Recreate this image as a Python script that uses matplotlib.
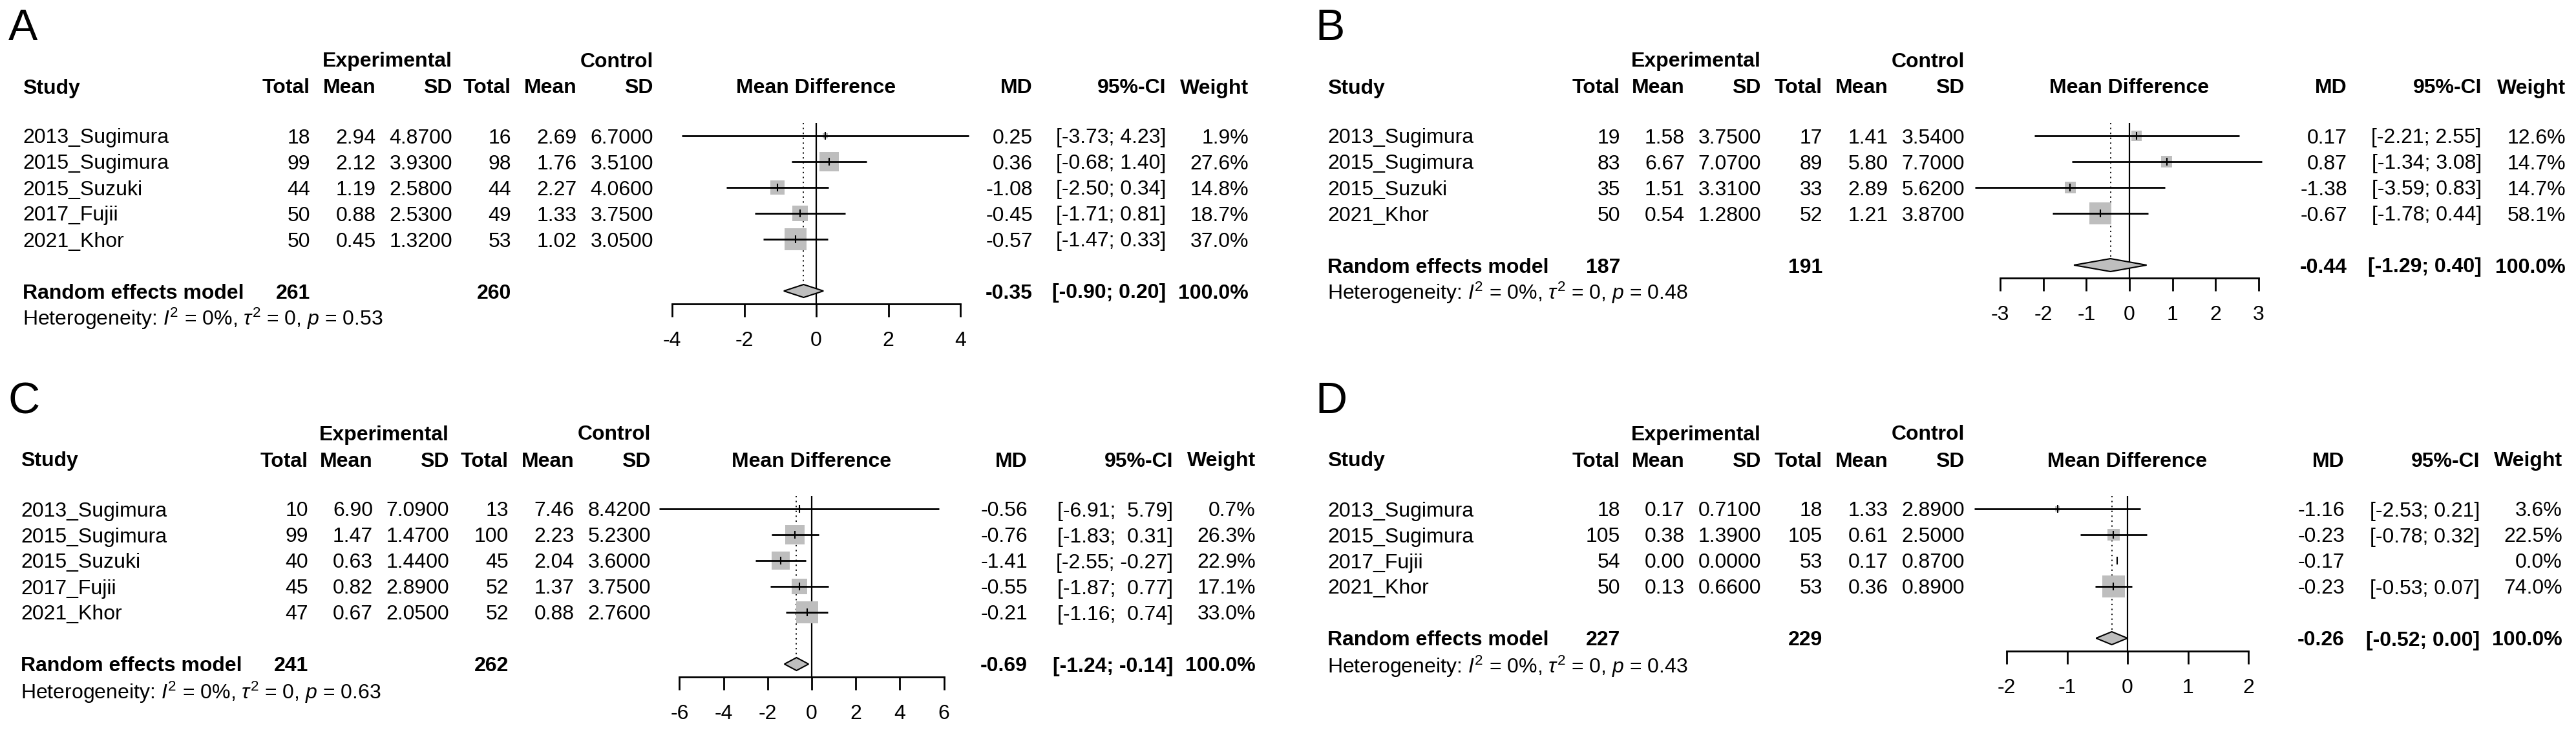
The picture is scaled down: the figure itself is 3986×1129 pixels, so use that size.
import numpy as np
import matplotlib
matplotlib.use('Agg')
import matplotlib.pyplot as plt

plt.rcParams['font.family'] = ['Liberation Sans', 'DejaVu Sans']
plt.rcParams['mathtext.fontset'] = 'custom'
plt.rcParams['mathtext.rm'] = 'Liberation Sans'
plt.rcParams['mathtext.it'] = 'Liberation Sans:italic'
plt.rcParams['axes.unicode_minus'] = False

# ---- data, panel A ----
a_study = ["2013_Sugimura", "2015_Sugimura", "2015_Suzuki", "2017_Fujii", "2021_Khor"]
a_exp_n = [18, 99, 44, 50, 50]
a_exp_mean = [2.94, 2.12, 1.19, 0.88, 0.45]
a_exp_sd = [4.87, 3.93, 2.58, 2.53, 1.32]
a_ctl_n = [16, 98, 44, 49, 53]
a_ctl_mean = [2.69, 1.76, 2.27, 1.33, 1.02]
a_ctl_sd = [6.70, 3.51, 4.06, 3.75, 3.05]
a_md = [0.25, 0.36, -1.08, -0.45, -0.57]
a_lo = [-3.73, -0.68, -2.50, -1.71, -1.47]
a_hi = [4.23, 1.40, 0.34, 0.81, 0.33]
a_w = [1.9, 27.6, 14.8, 18.7, 37.0]
a_total = [261, 260]
a_pooled = [-0.35, -0.90, 0.20]
a_p = "0.53"
a_ticks = [-4, -2, 0, 2, 4]

# ---- data, panel B ----
b_study = ["2013_Sugimura", "2015_Sugimura", "2015_Suzuki", "2021_Khor"]
b_exp_n = [19, 83, 35, 50]
b_exp_mean = [1.58, 6.67, 1.51, 0.54]
b_exp_sd = [3.75, 7.07, 3.31, 1.28]
b_ctl_n = [17, 89, 33, 52]
b_ctl_mean = [1.41, 5.80, 2.89, 1.21]
b_ctl_sd = [3.54, 7.70, 5.62, 3.87]
b_md = [0.17, 0.87, -1.38, -0.67]
b_lo = [-2.21, -1.34, -3.59, -1.78]
b_hi = [2.55, 3.08, 0.83, 0.44]
b_w = [12.6, 14.7, 14.7, 58.1]
b_total = [187, 191]
b_pooled = [-0.44, -1.29, 0.40]
b_p = "0.48"
b_ticks = [-3, -2, -1, 0, 1, 2, 3]

# ---- data, panel C ----
c_study = ["2013_Sugimura", "2015_Sugimura", "2015_Suzuki", "2017_Fujii", "2021_Khor"]
c_exp_n = [10, 99, 40, 45, 47]
c_exp_mean = [6.90, 1.47, 0.63, 0.82, 0.67]
c_exp_sd = [7.09, 1.47, 1.44, 2.89, 2.05]
c_ctl_n = [13, 100, 45, 52, 52]
c_ctl_mean = [7.46, 2.23, 2.04, 1.37, 0.88]
c_ctl_sd = [8.42, 5.23, 3.60, 3.75, 2.76]
c_md = [-0.56, -0.76, -1.41, -0.55, -0.21]
c_lo = [-6.91, -1.83, -2.55, -1.87, -1.16]
c_hi = [5.79, 0.31, -0.27, 0.77, 0.74]
c_w = [0.7, 26.3, 22.9, 17.1, 33.0]
c_total = [241, 262]
c_pooled = [-0.69, -1.24, -0.14]
c_p = "0.63"
c_ticks = [-6, -4, -2, 0, 2, 4, 6]

# ---- data, panel D ----
d_study = ["2013_Sugimura", "2015_Sugimura", "2017_Fujii", "2021_Khor"]
d_exp_n = [18, 105, 54, 50]
d_exp_mean = [0.17, 0.38, 0.00, 0.13]
d_exp_sd = [0.71, 1.39, 0.00, 0.66]
d_ctl_n = [18, 105, 53, 53]
d_ctl_mean = [1.33, 0.61, 0.17, 0.36]
d_ctl_sd = [2.89, 2.50, 0.87, 0.89]
d_md = [-1.16, -0.23, -0.17, -0.23]
d_lo = [-2.53, -0.78, np.nan, -0.53]
d_hi = [0.21, 0.32, np.nan, 0.07]
d_w = [3.6, 22.5, 0.0, 74.0]
d_total = [227, 229]
d_pooled = [-0.26, -0.52, 0.00]
d_p = "0.43"
d_ticks = [-2, -1, 0, 1, 2]

# ---- layout (pixels) ----
W, H = 3986, 1129
FS = 23
ROW = 40
CAP = 11.5
GRAY = '#BEBEBE'

# letter x, first row y, column right edges, zero x, px per unit
lay_a = dict(lx=13, y0=210, study=35, cols=[480, 582, 700, 791, 893, 1011],
             md=1598, ci=1804, w=1932, zero=1263, ppu=55.75)
lay_b = dict(lx=2035, y0=210, study=2054, cols=[2507, 2607, 2725, 2820, 2922, 3040],
             md=3632, ci=3840, w=3970, zero=3295, ppu=66.6)
lay_c = dict(lx=13, y0=787, study=32, cols=[477, 577, 695, 787, 889, 1007],
             md=1590, ci=1815, w=1943, zero=1256, ppu=34.1)
lay_d = dict(lx=2035, y0=787, study=2054, cols=[2507, 2607, 2725, 2820, 2922, 3040],
             md=3628, ci=3837, w=3965, zero=3292, ppu=93.5)

fig = plt.figure(figsize=(W / 100, H / 100), dpi=100)
tab = fig.add_axes([0, 0, 1, 1])
tab.set_xlim(0, W)
tab.set_ylim(H, 0)
tab.axis('off')


def txt(x, y, s, ha='right', bold=False, size=FS):
    tab.text(x, y + CAP, s, ha=ha, va='baseline', fontsize=size,
             fontweight='bold' if bold else 'normal')


def fmt_pad(vals):
    out = ["" if np.isnan(v) else "%.2f" % v for v in vals]
    n = max(len(s) for s in out)
    return [s.rjust(n) if s else s for s in out]


def draw_panel(lay, letter, study, en, em, esd, cn, cm, csd, md, lo, hi, wt,
               total, pooled, p, ticks):
    n = len(study)
    y0 = lay['y0']
    rows = [y0 + ROW * k for k in range(n)]
    y_re = y0 + ROW * (n + 1)
    y_axis = y_re + 20
    c = lay['cols']

    # panel letter
    tab.text(lay['lx'], y0 - 148, letter, fontsize=49, ha='left', va='baseline')

    # headers
    txt(c[2], y0 - 118, "Experimental", bold=True)
    txt(c[5], y0 - 118, "Control", bold=True)
    hy = y0 - 77
    txt(lay['study'], hy, "Study", ha='left', bold=True)
    for x, s in zip(c, ["Total", "Mean", "SD", "Total", "Mean", "SD"]):
        txt(x, hy, s, bold=True)
    txt(lay['zero'], hy, "Mean Difference", ha='center', bold=True)
    txt(lay['md'], hy, "MD", bold=True)
    txt(lay['ci'], hy, "95%-CI", bold=True)
    txt(lay['w'], hy, "Weight", bold=True)

    # study rows
    los = fmt_pad(list(lo) + [pooled[1]])
    his = fmt_pad(list(hi) + [pooled[2]])
    for i, y in enumerate(rows):
        txt(lay['study'], y, study[i], ha='left')
        txt(c[0], y, "%d" % en[i])
        txt(c[1], y, "%.2f" % em[i])
        txt(c[2], y, "%.4f" % esd[i])
        txt(c[3], y, "%d" % cn[i])
        txt(c[4], y, "%.2f" % cm[i])
        txt(c[5], y, "%.4f" % csd[i])
        txt(lay['md'], y, "%.2f" % md[i])
        if los[i]:
            txt(lay['ci'], y, "[%s; %s]" % (los[i], his[i]))
        txt(lay['w'], y, "%.1f%%" % wt[i])

    # pooled row
    txt(lay['study'], y_re, "Random effects model", ha='left', bold=True)
    txt(c[0], y_re, "%d" % total[0], bold=True)
    txt(c[3], y_re, "%d" % total[1], bold=True)
    txt(lay['md'], y_re, "%.2f" % pooled[0], bold=True)
    txt(lay['ci'], y_re, "[%s; %s]" % (los[-1], his[-1]), bold=True)
    txt(lay['w'], y_re, "100.0%", bold=True)
    txt(lay['study'], y_re + 42,
        r"Heterogeneity: $I^2$ = 0%, $\tau^2$ = 0, $p$ = " + p, ha='left')

    # forest axes
    x_left = lay['zero'] + ticks[0] * lay['ppu']
    width = (ticks[-1] - ticks[0]) * lay['ppu']
    ax = fig.add_axes([x_left / W, 0, width / W, 1])
    ax.set_xlim(ticks[0], ticks[-1])
    ax.set_ylim(H, 0)
    ax.patch.set_visible(False)
    for s in ['left', 'right', 'top']:
        ax.spines[s].set_visible(False)
    ax.spines['bottom'].set_position(('data', y_axis))
    ax.spines['bottom'].set_bounds(ticks[0], ticks[-1])
    ax.spines['bottom'].set_linewidth(2.0)
    ax.set_yticks([])
    ax.set_xticks(ticks)
    ax.set_xticklabels([str(t) for t in ticks])
    ax.tick_params(axis='x', direction='out', length=14.4, width=2.0,
                   labelsize=FS, pad=16)

    ax.vlines(0, y0 - 20, y_axis, color='black', lw=1.6, clip_on=False)
    ax.vlines(pooled[0], y0 - 20, y_re - 10, color='black', lw=1.3,
              linestyles=(0, (1.2, 3)), clip_on=False)

    wt = np.array(wt, dtype=float)
    ax.scatter(md, rows, s=600 * wt / wt.max(), marker='s', color=GRAY,
               linewidths=0, zorder=2, clip_on=False)
    ax.hlines(rows, lo, hi, color='black', lw=2.0, zorder=3, clip_on=False)
    ax.plot(md, rows, ls='none', marker='|', ms=8, mew=1.5, color='black',
            zorder=4, clip_on=False)
    ax.fill([pooled[1], pooled[0], pooled[2], pooled[0]],
            [y_re, y_re - 10, y_re, y_re + 10],
            facecolor=GRAY, edgecolor='black', lw=1.5, zorder=3, clip_on=False)


draw_panel(lay_a, "A", a_study, a_exp_n, a_exp_mean, a_exp_sd, a_ctl_n, a_ctl_mean,
           a_ctl_sd, a_md, a_lo, a_hi, a_w, a_total, a_pooled, a_p, a_ticks)
draw_panel(lay_b, "B", b_study, b_exp_n, b_exp_mean, b_exp_sd, b_ctl_n, b_ctl_mean,
           b_ctl_sd, b_md, b_lo, b_hi, b_w, b_total, b_pooled, b_p, b_ticks)
draw_panel(lay_c, "C", c_study, c_exp_n, c_exp_mean, c_exp_sd, c_ctl_n, c_ctl_mean,
           c_ctl_sd, c_md, c_lo, c_hi, c_w, c_total, c_pooled, c_p, c_ticks)
draw_panel(lay_d, "D", d_study, d_exp_n, d_exp_mean, d_exp_sd, d_ctl_n, d_ctl_mean,
           d_ctl_sd, d_md, d_lo, d_hi, d_w, d_total, d_pooled, d_p, d_ticks)

fig.savefig("out.png", dpi=100, facecolor='white')
